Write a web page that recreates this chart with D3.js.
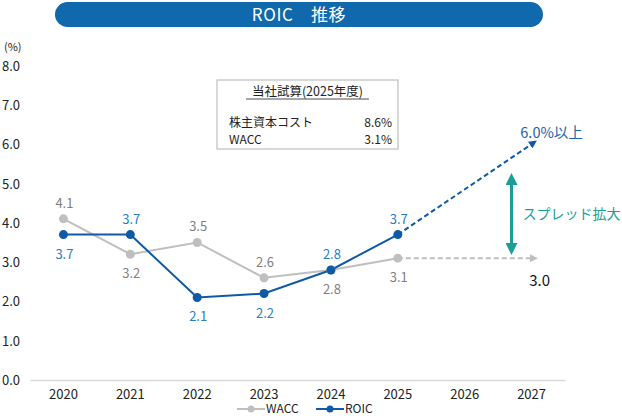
<!DOCTYPE html>
<html><head><meta charset="utf-8">
<script src="https://cdn.jsdelivr.net/npm/d3@7"></script>
<style>
html,body{margin:0;padding:0;background:#fff;}
svg{display:block;font-family:"Noto Sans CJK JP","Noto Sans",sans-serif;}
</style></head>
<body><svg id="c" width="622" height="416"></svg>
<script>
const years = ["2020","2021","2022","2023","2024","2025","2026","2027"];
const wacc = [4.1, 3.2, 3.5, 2.6, 2.8, 3.1];
const roic = [3.7, 3.7, 2.1, 2.2, 2.8, 3.7];
const waccLabelPos = ["above","below","above","above","below","below"];
const roicLabelPos = ["below","above","below","below","above","above"];
const roicTarget = {year:"2027", value:6.0, label:"6.0%以上"};
const waccTarget = {year:"2027", value:3.1, label:"3.0"};
const spread = {from:3.3, to:5.15, label:"スプレッド拡大"};
const yTicks = [0,1,2,3,4,5,6,7,8];
const boxTitle = "当社試算(2025年度)";
const boxRows = [["株主資本コスト","8.6%"],["WACC","3.1%"]];

const svg = d3.select("#c");
const C_ROIC = "#0f5aa6", C_ROIC_T = "#2a7cc6", C_WACC = "#bfbfbf", C_WACC_T = "#7f7f7f", C_TEAL = "#1b9e96";

const x = d3.scaleBand().domain(years).range([30,565]);
const cx = d => x(d) + x.bandwidth()/2;
const y = d3.scaleLinear().domain([0,8]).range([380,65.6]);

// title bar
svg.append("rect").attr("x",55).attr("y",2).attr("width",488).attr("height",25).attr("rx",12.5).attr("fill","#1068ad");
svg.append("text").attr("x",299).attr("y",21).attr("text-anchor","middle").attr("fill","#fff").attr("font-size",17)
  .attr("letter-spacing",0.6).text("ROIC\u3000推移");

// y axis labels
svg.append("text").attr("x",4).attr("y",51).attr("font-size",11).attr("fill","#222").text("(%)");
svg.selectAll(".yt").data(yTicks).join("text").attr("x",2).attr("y",d=>y(d)+5)
  .attr("font-size",13).attr("fill","#222").text(d=>d.toFixed(1));

// x axis
const xa = svg.append("g").attr("transform","translate(0,380)").call(d3.axisBottom(x).tickSize(0).tickPadding(10));
xa.select(".domain").attr("stroke","#d9d9d9").attr("stroke-width",1.5);
xa.selectAll("text").attr("font-size",13).attr("fill","#222").attr("font-family","'Noto Sans CJK JP',sans-serif");

// defs markers
const defs = svg.append("defs");
function arrow(id,color){
  defs.append("marker").attr("id",id).attr("viewBox","0 0 10 10").attr("refX",2).attr("refY",5)
   .attr("markerWidth",4).attr("markerHeight",4).attr("orient","auto-start-reverse")
   .append("path").attr("d","M0,0 L10,5 L0,10 z").attr("fill",color);
}
arrow("aRoic",C_ROIC); arrow("aWacc",C_WACC); arrow("aTeal",C_TEAL);

// projections
const last = years[wacc.length-1];
svg.append("line").attr("x1",cx(last)).attr("y1",y(wacc[wacc.length-1])).attr("x2",cx(waccTarget.year)).attr("y2",y(waccTarget.value))
  .attr("stroke",C_WACC).attr("stroke-width",2).attr("stroke-dasharray","5,3").attr("marker-end","url(#aWacc)");
svg.append("line").attr("x1",cx(last)).attr("y1",y(roic[roic.length-1])).attr("x2",cx(roicTarget.year)).attr("y2",y(roicTarget.value))
  .attr("stroke",C_ROIC).attr("stroke-width",2).attr("stroke-dasharray","5,3").attr("marker-end","url(#aRoic)");
svg.append("text").attr("x",cx(roicTarget.year)+20).attr("y",y(roicTarget.value)-6).attr("text-anchor","middle")
  .attr("font-size",14.5).attr("fill","#1a62ad").text(roicTarget.label);
svg.append("text").attr("x",cx(waccTarget.year)+8).attr("y",y(waccTarget.value)+28).attr("text-anchor","middle")
  .attr("font-size",15).attr("fill","#111").text(waccTarget.label);

// spread arrow
const sx = x("2026") + x.bandwidth()*1.2;
svg.append("line").attr("x1",sx).attr("x2",sx).attr("y1",y(spread.from)-5).attr("y2",y(spread.to)+5)
  .attr("stroke",C_TEAL).attr("stroke-width",3).attr("marker-start","url(#aTeal)").attr("marker-end","url(#aTeal)");
svg.append("text").attr("x",sx+11).attr("y",(y(spread.from)+y(spread.to))/2+5).attr("font-size",14).attr("fill",C_TEAL).text(spread.label);

// lines
const line = d3.line().x((d,i)=>cx(years[i])).y(d=>y(d));
svg.append("path").attr("d",line(wacc)).attr("fill","none").attr("stroke",C_WACC).attr("stroke-width",2);
svg.append("path").attr("d",line(roic)).attr("fill","none").attr("stroke",C_ROIC).attr("stroke-width",2);
svg.selectAll(".wd").data(wacc).join("circle").attr("cx",(d,i)=>cx(years[i])).attr("cy",d=>y(d)).attr("r",4.5).attr("fill",C_WACC);
svg.selectAll(".rd").data(roic).join("circle").attr("cx",(d,i)=>cx(years[i])).attr("cy",d=>y(d)).attr("r",4.5).attr("fill",C_ROIC);

svg.selectAll(".wl").data(wacc).join("text").attr("x",(d,i)=>cx(years[i])+1)
  .attr("y",(d,i)=>waccLabelPos[i]=="above"? y(d)-11 : y(d)+24).attr("text-anchor","middle")
  .attr("font-size",13).attr("fill",C_WACC_T).text(d=>d.toFixed(1));
svg.selectAll(".rl").data(roic).join("text").attr("x",(d,i)=>cx(years[i])+1)
  .attr("y",(d,i)=>roicLabelPos[i]=="above"? y(d)-11 : y(d)+24).attr("text-anchor","middle")
  .attr("font-size",13).attr("fill",C_ROIC_T).text(d=>d.toFixed(1));

// info box
const bx=217, by=80, bw=181, bh=69;
svg.append("rect").attr("x",bx).attr("y",by).attr("width",bw).attr("height",bh).attr("fill","#fff").attr("stroke","#bfbfbf").attr("stroke-width",1.2);
svg.append("text").attr("x",bx+bw/2).attr("y",by+16).attr("text-anchor","middle").attr("font-size",12.5).attr("fill","#222").text(boxTitle);
svg.append("line").attr("x1",bx+29).attr("x2",bx+bw-29).attr("y1",by+19).attr("y2",by+19).attr("stroke","#222").attr("stroke-width",0.8);
boxRows.forEach((r,i)=>{
  svg.append("text").attr("x",bx+12).attr("y",by+47+i*16.5).attr("font-size",12).attr("fill","#222").text(r[0]);
  svg.append("text").attr("x",bx+bw-6).attr("y",by+47+i*16.5).attr("text-anchor","end").attr("font-size",12).attr("fill","#222").text(r[1]);
});

// legend
const lg = [["WACC",C_WACC,237],["ROIC",C_ROIC,316]];
lg.forEach(l=>{
  svg.append("line").attr("x1",l[2]).attr("x2",l[2]+28).attr("y1",409).attr("y2",409).attr("stroke",l[1]).attr("stroke-width",2);
  svg.append("circle").attr("cx",l[2]+14).attr("cy",409).attr("r",3.5).attr("fill",l[1]);
  svg.append("text").attr("x",l[2]+29).attr("y",413).attr("font-size",12).attr("fill","#222").text(l[0]);
});
</script></body></html>
